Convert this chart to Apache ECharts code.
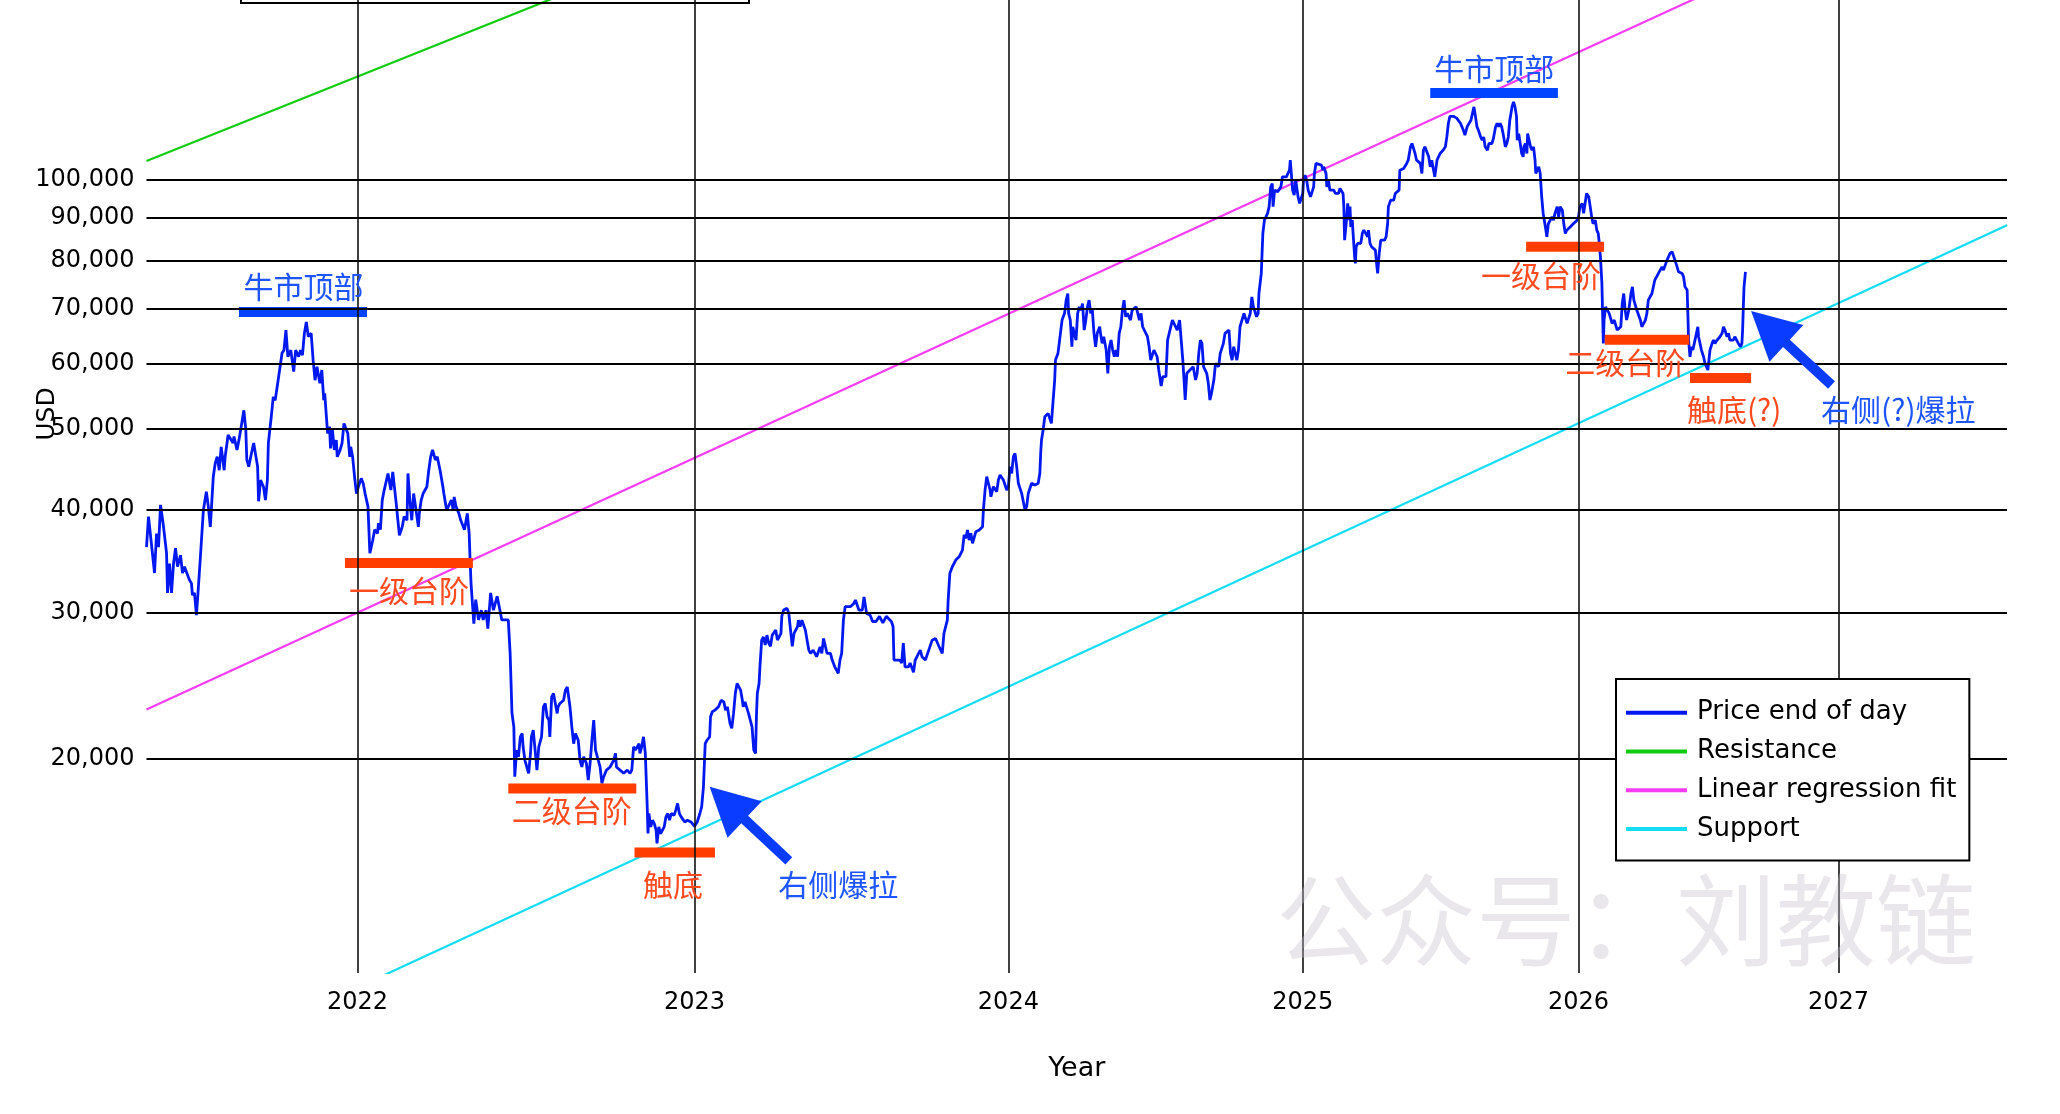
<!DOCTYPE html>
<html><head><meta charset="utf-8">
<script src="https://cdn.jsdelivr.net/npm/echarts@6/dist/echarts.min.js"></script>
<style>html,body{margin:0;padding:0;background:#fff}#c{width:2060px;height:1114px}</style>
</head><body><div id="c"></div>
<script>
// x axis: days since the genesis block (2009-01-03), log scale; y axis: USD, log scale
const yearLabels = ['2022','2023','2024','2025','2026','2027'];
const yearTickDays = [4746, 5111, 5476, 5842, 6207, 6572];
const priceTicks = [20000, 30000, 40000, 50000, 60000, 70000, 80000, 90000, 100000];
const xRange = [4531, 6820];
const yRange = [11000, 165170];

// fitted power-law lines, values at the two ends of the x range
const lineDays = [4531, 6820];
const resistanceValues = [105500, 838200];
const regressionValues = [22910, 247000];
const supportValues = [8055, 88200];

// price end of day [day, USD]
const pricePoints = [
[4531,36000],[4533,39200],[4539,33500],[4541,37400],[4543,36000],[4545,40500],[4548,38100],[4551,35400],[4552,31700],[4554,34400],
[4556,31700],[4558,34400],[4560,35900],[4562,34100],[4565,35200],[4567,33500],[4569,34100],[4574,32850],[4576,32550],[4577,31500],
[4579,31700],[4581,29800],[4583,32250],[4585,35050],[4588,39900],[4591,42000],[4593,40300],[4595,38100],[4598,43800],[4600,45500],
[4602,46300],[4604,44600],[4606,47600],[4609,44600],[4610,46300],[4613,49200],[4615,49400],[4618,48100],[4619,49000],[4622,47200],
[4624,48500],[4626,50100],[4629,52700],[4631,49900],[4632,45900],[4634,45050],[4636,46300],[4639,48100],[4641,48300],[4643,45050],
[4644,40900],[4646,43400],[4649,42600],[4651,41050],[4653,43400],[4654,48100],[4657,51800],[4659,54700],[4661,54200],[4664,57300],
[4666,59500],[4668,61800],[4670,62300],[4672,65900],[4674,61200],[4677,62300],[4680,58700],[4682,62300],[4685,61200],[4687,62300],
[4689,61450],[4691,65300],[4693,67400],[4695,64700],[4698,65300],[4700,60600],[4702,57300],[4704,59500],[4707,56800],[4709,58950],
[4711,54200],[4712,55250],[4715,49400],[4717,50350],[4718,47400],[4720,49900],[4722,47200],[4724,48500],[4725,46300],[4728,47200],
[4730,48100],[4732,50800],[4734,50800],[4736,49400],[4738,46300],[4739,47600],[4741,46300],[4743,43800],[4745,41800],[4747,42600],
[4750,43600],[4752,43000],[4754,41800],[4757,40300],[4759,35400],[4762,36700],[4764,37800],[4767,37400],[4768,38500],[4770,37800],
[4772,41050],[4774,42200],[4778,44200],[4781,42200],[4783,44400],[4787,40300],[4788,39200],[4790,37200],[4793,38100],[4795,39200],
[4798,38800],[4799,44200],[4801,41050],[4803,38800],[4805,41800],[4807,40300],[4810,38100],[4811,39550],[4813,41050],[4815,41800],
[4819,42600],[4821,44600],[4823,46300],[4825,47200],[4828,45900],[4830,46300],[4833,44600],[4836,42600],[4837,41800],[4840,39900],
[4845,41050],[4847,39900],[4848,41400],[4850,40300],[4853,39550],[4855,38800],[4859,37800],[4862,39550],[4864,37400],[4865,34700],
[4866,32550],[4868,30200],[4869,29100],[4871,31100],[4874,29400],[4877,30200],[4879,29400],[4882,30200],[4884,28700],[4887,31700],
[4890,30200],[4894,31400],[4897,30200],[4899,29400],[4906,29400],[4908,26790],[4910,22660],[4912,21830],[4913,19000],[4915,20460],
[4917,20080],[4919,21230],[4921,21430],[4922,20650],[4924,19890],[4928,19180],[4930,20270],[4931,21230],[4933,21630],[4935,20460],
[4937,19350],[4939,20650],[4941,21030],[4942,21230],[4944,23080],[4946,23300],[4948,22450],[4950,22240],[4951,21230],[4953,23730],
[4955,23950],[4957,23300],[4959,22660],[4960,23080],[4962,23300],[4966,23510],[4968,24180],[4970,24400],[4971,23950],[4973,23080],
[4975,21830],[4977,20830],[4979,21430],[4982,21030],[4984,19890],[4986,19520],[4988,20080],[4991,19710],[4993,18820],[4995,19710],
[4997,21030],[4999,22240],[5001,20460],[5004,19890],[5006,19520],[5008,18650],[5010,19000],[5013,19350],[5017,19520],[5021,19890],
[5023,20270],[5024,19520],[5028,19350],[5032,19180],[5036,19350],[5039,19180],[5041,19350],[5043,20650],[5045,20460],[5047,20460],
[5049,20830],[5050,20270],[5052,20650],[5054,21230],[5056,20270],[5058,17640],[5059,16220],[5060,17150],[5062,16520],[5064,16830],
[5066,16670],[5068,16370],[5069,15780],[5071,16520],[5073,16220],[5075,16370],[5077,16520],[5079,16990],[5081,17150],[5083,16830],
[5085,17150],[5088,17060],[5090,17310],[5092,17640],[5094,17150],[5096,16990],[5100,16750],[5103,16830],[5107,16750],[5111,16550],
[5114,16750],[5117,17150],[5119,17470],[5121,18460],[5123,20830],[5125,21030],[5128,21230],[5129,22450],[5131,22770],[5134,22870],
[5138,23080],[5141,23510],[5144,23400],[5146,22870],[5148,23080],[5151,22040],[5153,21740],[5155,22660],[5157,23950],[5159,24630],
[5161,24630],[5163,24180],[5165,23510],[5166,23080],[5168,23400],[5170,23300],[5172,22660],[5174,22240],[5176,21830],[5178,20460],
[5180,20270],[5181,22450],[5182,23950],[5184,24630],[5185,25800],[5187,27790],[5189,28030],[5191,27420],[5193,28180],[5195,27560],
[5197,27320],[5199,28180],[5203,28580],[5205,27790],[5209,28320],[5210,29710],[5212,30220],[5216,30360],[5218,29940],[5220,28580],
[5222,27320],[5224,28320],[5228,28850],[5229,29380],[5231,28850],[5233,29380],[5237,28580],[5239,27790],[5241,27030],[5243,26790],
[5246,27030],[5250,26540],[5254,27270],[5256,26790],[5258,27920],[5262,26790],[5266,26790],[5268,26290],[5271,25800],[5273,25560],
[5275,25340],[5277,26290],[5279,26790],[5281,29380],[5283,30500],[5289,30500],[5293,30760],[5295,31070],[5299,30220],[5303,30220],
[5305,31350],[5308,29940],[5312,29810],[5315,29270],[5319,29270],[5323,29700],[5327,29150],[5331,29700],[5337,29270],[5339,28850],
[5340,26290],[5344,26290],[5347,26290],[5349,26070],[5351,27560],[5353,25800],[5357,25800],[5359,26070],[5363,25410],[5365,26290],
[5369,26790],[5371,27030],[5373,26540],[5377,26290],[5381,27030],[5385,27790],[5389,27920],[5393,27320],[5397,26790],[5399,28320],
[5403,29380],[5404,31070],[5406,33470],[5409,34090],[5413,34730],[5417,35050],[5421,35710],[5423,37240],[5425,36900],[5427,37760],
[5429,36720],[5431,37420],[5433,36390],[5437,37590],[5441,37760],[5445,38110],[5446,39920],[5448,42210],[5450,43810],[5451,44020],
[5454,42210],[5455,41430],[5458,42600],[5462,42020],[5464,43400],[5466,44020],[5470,43400],[5474,42210],[5476,42600],[5478,45050],
[5480,44220],[5482,46310],[5484,46740],[5486,45050],[5488,43010],[5492,41820],[5496,39920],[5498,40290],[5500,41820],[5504,43010],
[5508,42800],[5512,43010],[5514,44220],[5515,46740],[5516,48510],[5518,49880],[5520,51770],[5524,52250],[5528,50820],[5532,57330],
[5533,60610],[5536,61760],[5538,64080],[5539,65290],[5541,67750],[5544,69030],[5546,71620],[5548,72950],[5549,69030],[5551,67750],
[5553,62900],[5554,66500],[5556,65290],[5558,64080],[5560,69030],[5562,70290],[5564,69660],[5566,70950],[5568,65890],[5570,67750],
[5572,70290],[5574,71620],[5576,69030],[5578,69660],[5580,65290],[5582,62900],[5584,65290],[5587,66500],[5588,65290],[5590,63490],
[5592,64680],[5595,62320],[5597,58410],[5599,62900],[5601,64080],[5603,62320],[5605,61170],[5607,62320],[5609,61170],[5611,65290],
[5613,66500],[5615,69660],[5617,71620],[5619,68380],[5621,69030],[5625,67750],[5627,69660],[5632,70290],[5634,70290],[5636,67750],
[5638,69030],[5640,66500],[5644,65290],[5646,64680],[5648,62900],[5650,60610],[5652,60610],[5654,62320],[5658,61170],[5660,58950],
[5663,56370],[5665,57870],[5669,57870],[5671,64080],[5673,65290],[5677,67750],[5679,68070],[5681,66500],[5683,65890],[5686,67750],
[5688,64080],[5690,60610],[5692,56370],[5693,54230],[5695,58410],[5699,58950],[5703,59500],[5706,57330],[5708,58410],[5710,61760],
[5712,64080],[5714,63490],[5716,59500],[5720,58410],[5722,56810],[5724,54230],[5726,55250],[5729,57330],[5731,60060],[5735,59500],
[5737,61760],[5741,63490],[5743,65290],[5748,65890],[5750,61760],[5752,60610],[5754,62900],[5758,60610],[5760,62320],[5762,66500],
[5767,69030],[5771,67120],[5775,69030],[5777,72260],[5779,70290],[5783,68380],[5785,69030],[5786,72950],[5789,77150],[5791,86230],
[5793,89480],[5797,91180],[5799,92910],[5801,98170],[5803,99100],[5804,92910],[5806,97270],[5810,96820],[5814,98170],[5816,100950],
[5821,100950],[5823,101900],[5825,102840],[5826,105740],[5827,102840],[5829,97270],[5831,95930],[5833,100000],[5836,95480],[5838,93740],
[5842,96380],[5843,100000],[5845,101420],[5847,100000],[5849,97270],[5852,95480],[5856,98170],[5857,101900],[5859,104790],[5861,105250],
[5866,104310],[5868,102840],[5869,103800],[5872,101900],[5873,98170],[5875,100000],[5877,97270],[5882,97270],[5884,96380],[5888,96380],
[5890,97720],[5894,96380],[5895,92910],[5896,84640],[5898,88580],[5900,93740],[5902,89480],[5903,92910],[5904,87830],[5906,89480],
[5907,86230],[5909,80800],[5910,79330],[5911,83090],[5913,83880],[5917,83880],[5919,86230],[5921,87020],[5926,85420],[5927,87020],
[5929,83880],[5931,83090],[5936,82310],[5938,78580],[5939,77150],[5941,81560],[5943,84640],[5948,84640],[5950,85420],[5952,88580],
[5953,92910],[5956,94600],[5960,94600],[5962,96380],[5967,97270],[5968,102840],[5973,103330],[5977,104790],[5979,105740],[5982,109760],
[5984,110760],[5988,107740],[5990,105740],[5995,104790],[5997,101900],[5999,108720],[6001,109750],[6006,106740],[6008,103800],[6010,105740],
[6014,100950],[6017,105740],[6021,107740],[6025,108720],[6028,109750],[6030,112840],[6032,117190],[6034,119460],[6039,119460],[6043,118870],
[6048,117190],[6052,114940],[6054,113370],[6057,116100],[6062,118180],[6064,120400],[6066,122650],[6068,119460],[6070,116100],[6072,114940],
[6075,112800],[6077,111780],[6079,112800],[6081,109750],[6084,108720],[6086,110760],[6090,110760],[6092,112320],[6095,116100],[6097,117190],
[6099,116100],[6101,117190],[6103,116100],[6105,113860],[6108,109750],[6110,110760],[6112,112800],[6114,118180],[6117,122650],[6119,124370],
[6121,122650],[6123,119460],[6124,111780],[6126,113860],[6128,110760],[6130,107740],[6132,106740],[6133,109750],[6135,110760],[6137,107740],
[6138,113860],[6140,114390],[6142,109750],[6144,108720],[6146,109750],[6148,105740],[6149,101900],[6151,102840],[6153,103800],[6155,101900],
[6157,95480],[6159,91180],[6162,87830],[6164,85420],[6166,88580],[6171,90290],[6173,89480],[6175,91180],[6178,92910],[6180,90290],
[6182,92910],[6185,92000],[6187,88580],[6189,86230],[6191,87020],[6196,87830],[6200,88580],[6205,89480],[6207,90290],[6209,92910],
[6212,93740],[6214,91180],[6216,93740],[6218,96380],[6221,95480],[6223,92910],[6225,90290],[6227,88580],[6230,89480],[6232,87020],
[6234,86230],[6235,84640],[6237,80800],[6239,75100],[6240,69030],[6241,63490],[6242,67750],[6244,70290],[6249,69030],[6253,67120],
[6256,67750],[6260,65890],[6265,66500],[6267,70950],[6269,72950],[6271,69660],[6273,67750],[6276,69660],[6279,72950],[6281,74330],
[6283,71620],[6287,69660],[6292,67750],[6294,66500],[6299,67750],[6301,69030],[6303,71620],[6308,72950],[6312,75730],[6317,77150],
[6322,78580],[6324,77860],[6329,80060],[6333,81560],[6336,81930],[6338,81560],[6340,80060],[6343,78580],[6345,77500],[6350,77150],
[6352,76440],[6354,74330],[6357,73650],[6358,69030],[6359,64080],[6361,61170],[6363,62900],[6365,62320],[6367,63490],[6370,65290],
[6372,66500],[6373,64680],[6375,63490],[6377,62320],[6380,61170],[6382,60060],[6386,58950],[6387,60060],[6389,62320],[6392,63490],
[6394,64080],[6396,63490],[6399,64080],[6403,64680],[6406,65290],[6408,66500],[6410,65890],[6413,64680],[6415,65290],[6417,64080],
[6422,64080],[6424,64680],[6429,63490],[6432,62900],[6434,63490],[6435,65890],[6436,70290],[6437,74330],[6439,77500]
];

// hand-drawn annotations: level bars [startDay, endDay, USD, colour group]
const stepBars = [
  [4624, 4756, 69300, 'blue'],
  [4733, 4868, 34440, 'red'],
  [4906, 5046, 18380, 'red'],
  [5044, 5134, 15380, 'red'],
  [6008, 6179, 127500, 'blue'],
  [6136, 6242, 83080, 'red'],
  [6243, 6360, 64150, 'red'],
  [6361, 6447, 57670, 'red']
];
// annotation texts [day, USD, text, colour group]
const noteTexts = [
  [4690, 74290, '牛市顶部', 'blue'],
  [4800, 31860, '一级台阶', 'red'],
  [4975, 17310, '二级台阶', 'red'],
  [5087, 14055, '触底', 'red'],
  [5275, 14055, '右侧爆拉', 'blue'],
  [6093, 136560, '牛市顶部', 'blue'],
  [6156, 76720, '一级台阶', 'red'],
  [6271, 60210, '二级台阶', 'red'],
  [6423, 52760, '触底(?)', 'red'],
  [6659, 52760, '右侧(?)爆拉', 'blue']
];
// arrows [tipDay, tipUSD, tailDay, tailUSD]
const arrows = [
  [5128, 18480, 5218, 15030],
  [6447, 69500, 6562, 56550]
];

const FONT = 'DejaVu Sans';
const CJK = 'Noto Sans CJK SC';
const barColor = {blue: '#0044ff', red: '#ff3d00'};
const textColor = {blue: '#1e55ff', red: '#ff4b1f'};
const fmt = v => v.toLocaleString('en-US');

const chart = echarts.init(document.getElementById('c'));

const gridMarks = priceTicks.map(v => ({yAxis: v, label: {formatter: fmt(v)}}))
  .concat(yearTickDays.map((d, i) => ({
    xAxis: d,
    label: {formatter: yearLabels[i], distance: 18, fontSize: 24},
    lineStyle: {color: '#111', width: 1.6, type: 'solid'}
  })));

function lineSeries(name, values, color) {
  return {
    name, type: 'line', z: 2, silent: true, symbol: 'none', color,
    data: lineDays.map((d, i) => [d, values[i]]),
    lineStyle: {color, width: 2.2}, itemStyle: {color}
  };
}

const option = {
  animation: false,
  backgroundColor: '#fff',
  grid: {left: 146.5, right: 53, top: 0, bottom: 141, containLabel: false},
  xAxis: {
    type: 'log', min: xRange[0], max: xRange[1],
    axisLine: {show: false}, axisTick: {show: false}, axisLabel: {show: false}, splitLine: {show: false},
    name: 'Year', nameLocation: 'middle', nameGap: 82,
    nameTextStyle: {fontSize: 27, color: '#000', fontFamily: FONT}
  },
  yAxis: {
    type: 'log', min: yRange[0], max: yRange[1],
    axisLine: {show: false}, axisTick: {show: false}, axisLabel: {show: false}, splitLine: {show: false}
  },
  legend: {
    data: ['Price end of day', 'Resistance', 'Linear regression fit', 'Support'],
    orient: 'vertical', left: 1616, top: 679,
    icon: 'rect', itemWidth: 61, itemHeight: 4, itemGap: 8.8,
    padding: [18.7, 13, 16.4, 10],
    backgroundColor: '#fff', borderColor: '#000', borderWidth: 2, borderRadius: 0,
    textStyle: {fontSize: 26, color: '#000', fontFamily: FONT, lineHeight: 30, padding: [0, 0, 0, 5]},
    selectedMode: false, z: 20
  },
  graphic: [
    {type: 'rect', z: 30, shape: {x: 241, y: -20, width: 508, height: 23},
     style: {fill: 'none', stroke: '#000', lineWidth: 2}},
    {type: 'text', z: 30, x: 47, y: 414, rotation: Math.PI / 2,
     style: {text: 'USD', fill: '#000', fontSize: 25, fontFamily: FONT,
             align: 'center', verticalAlign: 'middle', textAlign: 'center', textVerticalAlign: 'middle'}},
    {type: 'text', z: 40, x: 1626, y: 920, silent: true,
     style: {text: '公众号：刘教链', fill: 'rgba(196,190,204,0.38)', fontSize: 100, fontFamily: CJK,
             align: 'center', verticalAlign: 'middle', textAlign: 'center', textVerticalAlign: 'middle'}}
  ],
  series: [
    {
      name: 'grid', type: 'line', data: [], z: 1, clip: false, silent: true,
      markLine: {
        silent: true, symbol: ['none', 'none'], animation: false,
        lineStyle: {color: '#000', width: 2, type: 'solid'},
        label: {show: true, position: 'start', distance: 12, fontSize: 24, color: '#000', fontFamily: FONT},
        emphasis: {disabled: true},
        data: gridMarks
      }
    },
    lineSeries('Support', supportValues, '#15dcf5'),
    lineSeries('Linear regression fit', regressionValues, '#f53df5'),
    lineSeries('Resistance', resistanceValues, '#11cc11'),
    {
      name: 'Price end of day', type: 'line', z: 3, silent: true, symbol: 'none', color: '#0018f0',
      data: pricePoints, lineStyle: {color: '#0018f0', width: 2.8}, itemStyle: {color: '#0018f0'}
    },
    {
      name: 'bars', type: 'custom', z: 4, silent: true,
      data: stepBars.map(b => [b[0], b[1], b[2]]),
      encode: {x: [0, 1], y: 2},
      renderItem: (params, api) => {
        const a = api.coord([api.value(0), api.value(2)]);
        const b = api.coord([api.value(1), api.value(2)]);
        return {type: 'rect', shape: {x: a[0], y: a[1] - 5, width: b[0] - a[0], height: 10},
                style: {fill: barColor[stepBars[params.dataIndex][3]]}};
      }
    },
    {
      name: 'arrows', type: 'custom', z: 5, silent: true,
      data: arrows,
      encode: {x: [0, 2], y: [1, 3]},
      renderItem: (params, api) => {
        const tip = api.coord([api.value(0), api.value(1)]);
        const tail = api.coord([api.value(2), api.value(3)]);
        const dx = tip[0] - tail[0], dy = tip[1] - tail[1];
        const len = Math.hypot(dx, dy), ux = dx / len, uy = dy / len, px = -uy, py = ux;
        const headLen = 48, headHalf = 25, shaftHalf = 5;
        const bx = tip[0] - ux * headLen, by = tip[1] - uy * headLen;
        const pts = [
          [tail[0] + px * shaftHalf, tail[1] + py * shaftHalf],
          [bx + px * shaftHalf, by + py * shaftHalf],
          [bx + px * headHalf, by + py * headHalf],
          [tip[0], tip[1]],
          [bx - px * headHalf, by - py * headHalf],
          [bx - px * shaftHalf, by - py * shaftHalf],
          [tail[0] - px * shaftHalf, tail[1] - py * shaftHalf]
        ];
        return {type: 'polygon', shape: {points: pts}, style: {fill: '#0a3cff'}};
      }
    },
    {
      name: 'notes', type: 'custom', z: 6, silent: true,
      data: noteTexts.map(t => [t[0], t[1]]),
      encode: {x: 0, y: 1},
      renderItem: (params, api) => {
        const p = api.coord([api.value(0), api.value(1)]);
        const t = noteTexts[params.dataIndex];
        return {type: 'text', x: p[0], y: p[1],
                style: {text: t[2], fill: textColor[t[3]], fontSize: 30, fontFamily: CJK,
                        align: 'center', verticalAlign: 'middle', textAlign: 'center', textVerticalAlign: 'middle'}};
      }
    }
  ]
};
chart.setOption(option);
</script>
</body></html>
